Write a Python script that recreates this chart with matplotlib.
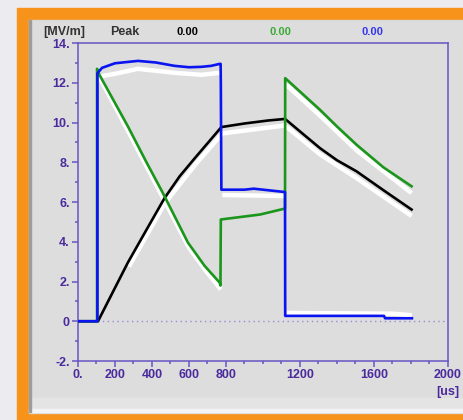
import matplotlib
matplotlib.use('Agg')
import matplotlib.pyplot as plt
from matplotlib.patches import Rectangle

# traces (time in us, field in MV/m)
t_blue = [0, 105, 105, 130, 200, 324, 420, 522, 600, 666, 720, 766, 771, 772, 775, 900, 950, 1000, 1119, 1120, 1654, 1660, 1805]
v_blue = [0, 0, 12.48, 12.75, 12.98, 13.1, 13.02, 12.85, 12.78, 12.8, 12.85, 12.95, 12.95, 12.0, 6.62, 6.62, 6.67, 6.62, 6.5, 0.27, 0.27, 0.15, 0.15]

t_green = [0, 103, 103, 110, 270, 370, 459, 594, 685, 766, 770, 772, 984, 1119, 1120, 1308, 1400, 1506, 1650, 1803]
v_green = [0, 0, 12.7, 12.5, 9.8, 8.0, 6.45, 3.96, 2.78, 1.94, 1.8, 5.12, 5.37, 5.67, 12.23, 10.64, 9.8, 8.88, 7.75, 6.79]

t_black = [0, 108, 190, 270, 370, 468, 550, 631, 775, 900, 1027, 1119, 1308, 1400, 1506, 1650, 1803]
v_black = [0, 0, 1.5, 2.96, 4.6, 6.2, 7.3, 8.2, 9.77, 9.95, 10.1, 10.18, 8.71, 8.1, 7.54, 6.6, 5.62]

# white reference traces behind the live ones
t_ref_blue_top = [110, 200, 324, 522, 666, 766]
v_ref_blue_top = [12.3, 12.45, 12.7, 12.5, 12.4, 12.5]
t_ref_blue_mid = [780, 1119]
v_ref_blue_mid = [6.35, 6.3]
t_ref_blue_low = [1130, 1700, 1805]
v_ref_blue_low = [0.42, 0.38, 0.3]
t_ref_green_a = [115, 275, 460, 600, 690, 772]
v_ref_green_a = [12.3, 9.5, 6.2, 3.7, 2.55, 1.6]
t_ref_green_b = [1125, 1308, 1506, 1803]
v_ref_green_b = [11.9, 10.35, 8.6, 6.45]
t_ref_black_a = [275, 470, 640, 780, 1119]
v_ref_black_a = [2.75, 5.95, 7.95, 9.45, 9.85]
t_ref_black_b = [1125, 1308, 1506, 1803]
v_ref_black_b = [9.8, 8.4, 7.2, 5.3]

y_ticks = [-2, 0, 2, 4, 6, 8, 10, 12, 14]
y_labels = ['-2.', '0', '2.', '4.', '6.', '8.', '10.', '12.', '14.']
x_ticks = [0, 200, 400, 600, 800, 1200, 1600, 2000]
x_labels = ['0.', '200', '400', '600', '800', '1200', '1600', '2000']

W, H = 464, 420
purple = '#4a2a9c'
axcol = '#6a55c4'
plt.rcParams['font.family'] = ['Liberation Sans', 'DejaVu Sans']

fig = plt.figure(figsize=(W / 100, H / 100), dpi=100)
fig.patch.set_facecolor('#ebebf0')

def box(x0, y0, x1, y1, color):
    # rectangle given in pixels from top-left
    fig.patches.append(Rectangle((x0 / W, 1 - y1 / H), (x1 - x0) / W, (y1 - y0) / H,
                                 transform=fig.transFigure, color=color, zorder=-10))

box(17, 8, W, H, '#f7931a')
box(29, 20, W, 413, '#d8d8d8')
box(32, 21, W, 409, '#dddddd')
box(32, 398, W, 409, '#e4e4e4')
box(29, 409, W, 412, '#f4f4f4')
box(29, 20, 31, 412, '#9c9c9c')

ax = fig.add_axes([78 / W, 1 - 361 / H, (448 - 78) / W, (361 - 43) / H])
ax.set_facecolor('#dddddd')

ref = dict(color='white', lw=3.2, solid_capstyle='butt', zorder=2)
ax.plot(t_ref_blue_top, v_ref_blue_top, **ref)
ax.plot(t_ref_blue_mid, v_ref_blue_mid, **ref)
ax.plot(t_ref_blue_low, v_ref_blue_low, **ref)
ax.plot(t_ref_green_a, v_ref_green_a, **ref)
ax.plot(t_ref_green_b, v_ref_green_b, **ref)
ax.plot(t_ref_black_a, v_ref_black_a, **ref)
ax.plot(t_ref_black_b, v_ref_black_b, **ref)

ax.plot([0, 2000], [0, 0], ls=(0, (1, 2.5)), color='#9a8ad6', lw=1, zorder=1)
ax.plot(t_black, v_black, color='black', lw=1.9, zorder=3)
ax.plot(t_green, v_green, color='#1a961a', lw=1.9, zorder=4)
ax.plot(t_blue, v_blue, color='#0a14f0', lw=1.9, zorder=5)

ax.set_xlim(0, 2000)
ax.set_ylim(-2, 14)
ax.set_xticks(x_ticks)
ax.set_xticklabels(x_labels)
ax.set_xticks(range(0, 2001, 100), minor=True)
ax.set_yticks(y_ticks)
ax.set_yticklabels(y_labels)
ax.set_yticks(range(-1, 14, 2), minor=True)
for s in ax.spines.values():
    s.set_color(axcol)
    s.set_linewidth(1.1)
ax.tick_params(which='major', length=4.5, width=1.1, color=axcol, labelcolor=purple, labelsize=9, pad=1.5)
ax.tick_params(which='minor', length=2.2, width=1.1, color=axcol)
for lbl in ax.get_xticklabels() + ax.get_yticklabels():
    lbl.set_fontweight('bold')

fig.text(448 / W, 1 - 392 / H, '[us]', ha='center', va='center', color=purple, fontsize=9, fontweight='bold')
fig.text(43 / W, 1 - 32 / H, '[MV/m]', ha='left', va='center', color='#333333', fontsize=9, fontweight='bold')
fig.text(110 / W, 1 - 32 / H, 'Peak', ha='left', va='center', color='#333333', fontsize=9, fontweight='bold')
fig.text(187 / W, 1 - 32 / H, '0.00', ha='center', va='center', color='black', fontsize=8, fontweight='bold')
fig.text(280 / W, 1 - 32 / H, '0.00', ha='center', va='center', color='#3aaa35', fontsize=8, fontweight='bold')
fig.text(372 / W, 1 - 32 / H, '0.00', ha='center', va='center', color='#3535ee', fontsize=8, fontweight='bold')

fig.savefig('out.png', dpi=100, facecolor=fig.get_facecolor())
